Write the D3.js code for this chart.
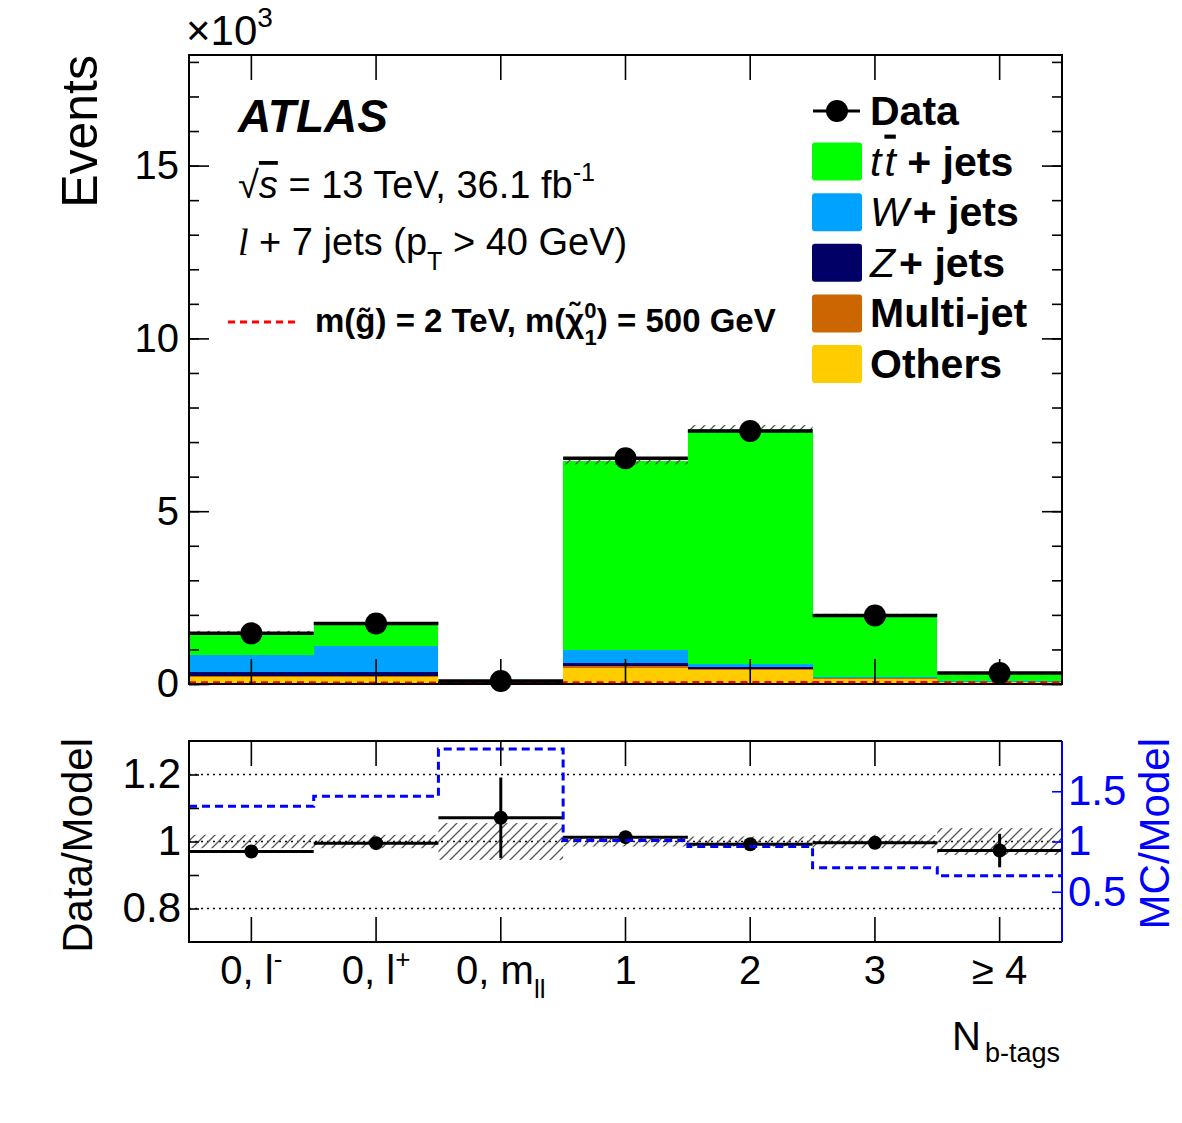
<!DOCTYPE html>
<meta charset="utf-8">
<style>
body { margin: 0; background: #fff; }
svg { display: block; font-family: "Liberation Sans", Arial, Helvetica, sans-serif; }
.frame { fill: none; stroke: #000; stroke-width: 2; }
.axis path { display: none; }
.axis line { stroke: #000; stroke-width: 1.6; }
.axis text { fill: #000; font-family: "Liberation Sans", Arial, sans-serif; }
.blue line { stroke: #0000ff; }
.blue text { fill: #0000ff; }
</style>
<svg width="1182" height="1123">
  <defs>
    <pattern id="hatch" patternUnits="userSpaceOnUse" width="10" height="10">
      <path d="M-1,1 l2,-2 M0,10 l10,-10 M9,11 l2,-2" stroke="#555" stroke-width="1.3"/>
    </pattern>
  </defs>
</svg>
<script src="https://d3js.org/d3.v7.min.js"></script>
<script>
// bins of the N b-tags distribution
var categories = ["0,l-", "0,l+", "0,mll", "1", "2", "3", ">=4"];

// stacked backgrounds (events), bottom -> top
var others   = [200, 190, 30, 450, 410, 150, 65];
var multijet = [30, 40, 5, 70, 20, 10, 3];
var zjets    = [120, 110, 10, 100, 60, 10, 4];
var wjets    = [490, 770, 5, 370, 90, 20, 8];
var ttbar    = [670, 650, 30, 5460, 6800, 1800, 250];

var dataEvents = [1465, 1750, 86, 6530, 7320, 1980, 320];
var signal     = [4, 3, 1, 10, 14, 12, 9];

// relative MC uncertainty (hatched band)
var mcRelErr = [0.02, 0.02, 0.055, 0.015, 0.015, 0.02, 0.04];

// lower panel
var dataRatio    = [0.970, 0.995, 1.071, 1.013, 0.992, 0.996, 0.973];
var dataRatioErr = [0.01, 0.01, 0.12, 0.005, 0.005, 0.01, 0.05];
var mcOverModel  = [1.35, 1.45, 1.92, 1.01, 0.95, 0.74, 0.66];

var keys = ["others", "multijet", "zjets", "wjets", "ttbar"];
var colors = {ttbar: "#00ff00", wjets: "#00a2ff", zjets: "#000066", multijet: "#cc6600", others: "#ffcc00"};

var rows = categories.map(function(c, i) {
  return {cat: c, others: others[i], multijet: multijet[i], zjets: zjets[i], wjets: wjets[i], ttbar: ttbar[i]};
});
var mcTotal = rows.map(function(r) { return keys.reduce(function(s, k) { return s + r[k]; }, 0); });

var svg = d3.select("svg");
var L = 189, R = 1062;
var mainTop = 55, mainBot = 684;
var ratTop = 741, ratBot = 942;

var x = d3.scaleBand().domain(categories).range([L, R]).padding(0);
var bw = x.bandwidth();
var cx = function(c) { return x(c) + bw / 2; };
var y = d3.scaleLinear().domain([0, 18200]).range([mainBot, mainTop]);
var yr = d3.scaleLinear().domain([0.7, 1.3]).range([ratBot, ratTop]);
var ymc = d3.scaleLinear().domain([0, 2]).range([ratBot, ratTop]);

svg.append("rect").attr("width", 1182).attr("height", 1123).attr("fill", "#fff").lower();

// ---------- main panel ----------
var stack = d3.stack().keys(keys)(rows);
var gStack = svg.append("g");
stack.forEach(function(layer) {
  gStack.selectAll(null).data(layer).enter().append("rect")
    .attr("x", function(d) { return x(d.data.cat); })
    .attr("width", bw)
    .attr("y", function(d) { return y(d[1]); })
    .attr("height", function(d) { return y(d[0]) - y(d[1]); })
    .attr("fill", colors[layer.key])
    .attr("shape-rendering", "crispEdges");
});

// MC uncertainty band
svg.append("g").selectAll("rect").data(categories).enter().append("rect")
  .attr("x", function(c) { return x(c); })
  .attr("width", bw)
  .attr("y", function(c, i) { return y(mcTotal[i] * (1 + mcRelErr[i])); })
  .attr("height", function(c, i) { return y(mcTotal[i] * (1 - mcRelErr[i])) - y(mcTotal[i] * (1 + mcRelErr[i])); })
  .attr("fill", "url(#hatch)");

// signal
var stepPts = function(vals) {
  var pts = categories.map(function(c, i) { return [x(c), vals[i]]; });
  pts.push([R, vals[vals.length - 1]]);
  return pts;
};
svg.append("path")
  .datum(stepPts(signal))
  .attr("d", d3.line().curve(d3.curveStepAfter).x(function(d) { return d[0]; }).y(function(d) { return y(d[1]) - 1; }))
  .attr("fill", "none").attr("stroke", "#ff0000").attr("stroke-width", 3).attr("stroke-dasharray", "7,5");

// axes main
function styleAxis(g, size) {
  g.attr("class", "axis");
  g.selectAll("text").style("font-size", size + "px");
}
svg.append("g").attr("transform", "translate(" + L + ",0)")
  .call(d3.axisLeft(y).tickValues(d3.range(0, 18001, 1000)).tickSizeInner(-10).tickSizeOuter(0).tickFormat(""))
  .call(styleAxis, 40);
svg.append("g").attr("transform", "translate(" + L + ",0)")
  .call(d3.axisLeft(y).tickValues([0, 5000, 10000, 15000]).tickSizeInner(-20).tickSizeOuter(0).tickPadding(10)
    .tickFormat(function(d) { return d / 1000; }))
  .call(styleAxis, 40);
svg.append("g").attr("transform", "translate(" + R + ",0)")
  .call(d3.axisRight(y).tickValues(d3.range(0, 18001, 1000)).tickSizeInner(-10).tickSizeOuter(0).tickFormat(""))
  .call(styleAxis, 40);
svg.append("g").attr("transform", "translate(" + R + ",0)")
  .call(d3.axisRight(y).tickValues([0, 5000, 10000, 15000]).tickSizeInner(-20).tickSizeOuter(0).tickFormat(""))
  .call(styleAxis, 40);
[[mainTop, "top"], [mainBot, "bottom"]].forEach(function(p) {
  var ax = p[1] == "top" ? d3.axisTop(x) : d3.axisBottom(x);
  svg.append("g").attr("transform", "translate(0," + p[0] + ")")
    .call(ax.tickSizeInner(-25).tickSizeOuter(0).tickFormat(""))
    .call(styleAxis, 40);
});

// data points main
var gData = svg.append("g");
gData.selectAll("line").data(categories).enter().append("line")
  .attr("x1", function(c) { return x(c); })
  .attr("x2", function(c) { return x(c) + bw; })
  .attr("y1", function(c, i) { return y(dataEvents[i]); })
  .attr("y2", function(c, i) { return y(dataEvents[i]); })
  .attr("stroke", "#000").attr("stroke-width", 3.5);
gData.selectAll("circle").data(categories).enter().append("circle")
  .attr("cx", cx)
  .attr("cy", function(c, i) { return y(dataEvents[i]); })
  .attr("r", 11).attr("fill", "#000");

svg.append("rect").attr("class", "frame")
  .attr("x", L).attr("y", mainTop).attr("width", R - L).attr("height", mainBot - mainTop);

// ---------- ratio panel ----------
svg.append("g").selectAll("line").data([0.8, 1, 1.2]).enter().append("line")
  .attr("x1", L).attr("x2", R)
  .attr("y1", yr).attr("y2", yr)
  .attr("stroke", "#000").attr("stroke-width", 1.6).attr("stroke-dasharray", "2,4");

svg.append("g").selectAll("rect").data(categories).enter().append("rect")
  .attr("x", function(c) { return x(c); })
  .attr("width", bw)
  .attr("y", function(c, i) { return yr(1 + mcRelErr[i]); })
  .attr("height", function(c, i) { return yr(1 - mcRelErr[i]) - yr(1 + mcRelErr[i]); })
  .attr("fill", "url(#hatch)");

var gR = svg.append("g");
gR.selectAll("line.h").data(categories).enter().append("line")
  .attr("x1", function(c) { return x(c); })
  .attr("x2", function(c) { return x(c) + bw; })
  .attr("y1", function(c, i) { return yr(dataRatio[i]); })
  .attr("y2", function(c, i) { return yr(dataRatio[i]); })
  .attr("stroke", "#000").attr("stroke-width", 3);
gR.selectAll("line.v").data(categories).enter().append("line")
  .attr("x1", cx).attr("x2", cx)
  .attr("y1", function(c, i) { return yr(dataRatio[i] - dataRatioErr[i]); })
  .attr("y2", function(c, i) { return yr(dataRatio[i] + dataRatioErr[i]); })
  .attr("stroke", "#000").attr("stroke-width", 3);
gR.selectAll("circle").data(categories).enter().append("circle")
  .attr("cx", cx)
  .attr("cy", function(c, i) { return yr(dataRatio[i]); })
  .attr("r", 7).attr("fill", "#000");

svg.append("path")
  .datum(stepPts(mcOverModel))
  .attr("d", d3.line().curve(d3.curveStepAfter).x(function(d) { return d[0]; }).y(function(d) { return ymc(d[1]); }))
  .attr("fill", "none").attr("stroke", "#0000ff").attr("stroke-width", 3).attr("stroke-dasharray", "8,5");

svg.append("g").attr("transform", "translate(" + L + ",0)")
  .call(d3.axisLeft(yr).tickValues([0.8, 0.9, 1, 1.1, 1.2]).tickSizeInner(-10).tickSizeOuter(0).tickPadding(8)
    .tickFormat(function(d) { return (d == 0.8 || d == 1 || d == 1.2) ? String(+d.toFixed(1)) : ""; }))
  .call(styleAxis, 42);
svg.append("g").attr("transform", "translate(" + R + ",0)")
  .call(d3.axisRight(ymc).tickValues([0.5, 1, 1.5]).tickSizeInner(-10).tickSizeOuter(0).tickPadding(6)
    .tickFormat(function(d) { return String(d); }))
  .call(styleAxis, 42)
  .classed("blue", true);
[[ratTop, "top"], [ratBot, "bottom"]].forEach(function(p) {
  var ax = p[1] == "top" ? d3.axisTop(x) : d3.axisBottom(x);
  svg.append("g").attr("transform", "translate(0," + p[0] + ")")
    .call(ax.tickSizeInner(-25).tickSizeOuter(0).tickFormat(""))
    .call(styleAxis, 40);
});

svg.append("path").attr("class", "frame")
  .attr("d", "M" + R + "," + ratTop + "H" + L + "V" + ratBot + "H" + R);
svg.append("line").attr("x1", R).attr("x2", R).attr("y1", ratTop).attr("y2", ratBot)
  .attr("stroke", "#0000ff").attr("stroke-width", 2);

// x tick labels
var xLab = [
  [{t: "0, l"}, {t: "-", sup: true}],
  [{t: "0, l"}, {t: "+", sup: true}],
  [{t: "0, m"}, {t: "ll", sub: true}],
  [{t: "1"}], [{t: "2"}], [{t: "3"}], [{t: "\u2265 4"}]
];
function richText(sel, parts, base) {
  parts.forEach(function(p) {
    var ts = sel.append("tspan").text(p.t);
    if (p.sup) ts.style("font-size", (base * 0.65) + "px").attr("dy", -base * 0.4);
    else if (p.sub) ts.style("font-size", (base * 0.65) + "px").attr("dy", base * 0.35);
    if (p.it) ts.style("font-style", "italic");
    if (p.bold) ts.style("font-weight", "bold");
    if (p.ov) ts.style("text-decoration", "overline");
    if (p.dx) ts.attr("dx", p.dx);
  });
}
categories.forEach(function(c, i) {
  var t = svg.append("text").attr("x", cx(c)).attr("y", 984)
    .attr("text-anchor", "middle").style("font-size", "40px");
  richText(t, xLab[i], 40);
});

var nb = svg.append("text").attr("x", 1060).attr("y", 1050).attr("text-anchor", "end").style("font-size", "40px");
nb.append("tspan").text("N");
nb.append("tspan").text("b-tags").style("font-size", "27px").attr("dy", 12).attr("dx", 4);

// axis titles
svg.append("text").attr("transform", "translate(97," + mainTop + ") rotate(-90)")
  .attr("text-anchor", "end").style("font-size", "50px").text("Events");
svg.append("text").attr("transform", "translate(92,738) rotate(-90)")
  .attr("text-anchor", "end").style("font-size", "42px").text("Data/Model");
svg.append("text").attr("transform", "translate(1169,738) rotate(-90)")
  .attr("text-anchor", "end").style("font-size", "42px").attr("fill", "#0000ff").text("MC/Model");

var e3 = svg.append("text").attr("x", 186).attr("y", 45).style("font-size", "42px");
e3.append("tspan").text("\u00d710");
e3.append("tspan").text("3").style("font-size", "28px").attr("dy", -18);

// labels
svg.append("text").attr("x", 238).attr("y", 132).style("font-size", "46px")
  .style("font-weight", "bold").style("font-style", "italic").text("ATLAS");

var t1 = svg.append("text").attr("x", 238).attr("y", 198).style("font-size", "38px");
t1.append("tspan").text("\u221a");
t1.append("tspan").text("s").style("font-style", "italic").style("text-decoration", "overline");
t1.append("tspan").text(" = 13 TeV, 36.1 fb");
t1.append("tspan").text("-1").style("font-size", "25px").attr("dy", -17);

var t2 = svg.append("text").attr("x", 238).attr("y", 255).style("font-size", "38px");
t2.append("tspan").text("l").style("font-style", "italic").style("font-family", "Liberation Serif, serif");
t2.append("tspan").text(" + 7 jets (p");
t2.append("tspan").text("T").style("font-size", "25px").attr("dy", 15);
t2.append("tspan").text(" > 40 GeV)").attr("dy", -15);

// signal legend
svg.append("line").attr("x1", 228).attr("x2", 298).attr("y1", 322).attr("y2", 322)
  .attr("stroke", "#ff0000").attr("stroke-width", 3).attr("stroke-dasharray", "7,5");
var t3 = svg.append("text").attr("x", 315).attr("y", 332).style("font-size", "33px").style("font-weight", "bold");
t3.append("tspan").text("m(g\u0303) = 2 TeV, m(\u03c7\u0303");
t3.append("tspan").text("0").style("font-size", "22px").attr("dy", -14);
t3.append("tspan").text("1").style("font-size", "22px").attr("dy", 27).attr("dx", -12);
t3.append("tspan").text(") = 500 GeV").attr("dy", -13);

// legend
var legItems = [
  {key: "ttbar", parts: [{t: "t", it: true}, {t: "t", it: true, ov: true, dx: 3}, {t: " + jets", bold: true}]},
  {key: "wjets", parts: [{t: "W", it: true}, {t: "+ jets", bold: true, dx: 4}]},
  {key: "zjets", parts: [{t: "Z", it: true}, {t: "+ jets", bold: true, dx: 4}]},
  {key: "multijet", parts: [{t: "Multi-jet", bold: true}]},
  {key: "others", parts: [{t: "Others", bold: true}]}
];
var legY0 = 111, legDy = 50.6;
svg.append("line").attr("x1", 813).attr("x2", 860).attr("y1", legY0).attr("y2", legY0)
  .attr("stroke", "#000").attr("stroke-width", 3);
svg.append("circle").attr("cx", 837).attr("cy", legY0).attr("r", 11).attr("fill", "#000");
svg.append("text").attr("x", 870).attr("y", legY0 + 14).style("font-size", "41px")
  .style("font-weight", "bold").text("Data");
legItems.forEach(function(it, i) {
  var cy = legY0 + legDy * (i + 1);
  svg.append("rect").attr("x", 812).attr("y", cy - 19).attr("width", 50).attr("height", 38)
    .attr("rx", 3).attr("fill", colors[it.key]);
  var t = svg.append("text").attr("x", 870).attr("y", cy + 14).style("font-size", "41px");
  richText(t, it.parts, 41);
});
</script>
